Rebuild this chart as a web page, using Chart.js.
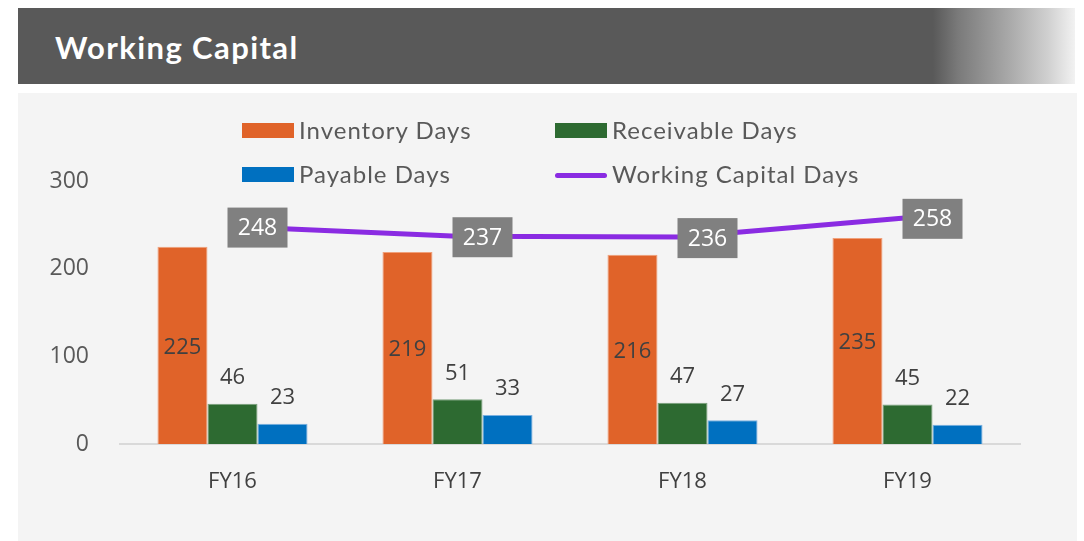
<!DOCTYPE html>
<html>
<head>
<meta charset="utf-8">
<script src="https://cdn.jsdelivr.net/npm/chart.js@4.4.1/dist/chart.umd.min.js"></script>
<style>
  body { margin: 0; width: 1084px; height: 541px; background: #fff; position: relative; overflow: hidden; font-family: "Open Sans", sans-serif; }
  #header { position: absolute; left: 18px; top: 8px; width: 1057px; height: 76px;
    background: linear-gradient(to right, #595959 0px, #595959 915px, #7a7a7a 940px, #a8a8a8 990px, #d0d0d0 1030px, #f2f2f2 1057px); }
  #header h1 { margin: 0; position: absolute; left: 37px; top: 21px; color: #fff; font-family: Lato, sans-serif; font-weight: 700; font-size: 31px; letter-spacing: 1.4px; line-height: 36px; }
  #panel { position: absolute; left: 18px; top: 93px; width: 1059px; height: 448px; background: #f4f4f4; }
  #wrap { position: absolute; left: 0; top: 0; width: 1084px; height: 541px; }
  .lg { position: absolute; font-family: Lato, sans-serif; font-size: 24px; letter-spacing: 1px; color: #595959; white-space: nowrap; }
  .lg span.sw { position: absolute; left: 0; }
  .lg span.tx { position: absolute; left: 57px; top: -16px; line-height: 30px; }
</style>
</head>
<body>
<div id="header"><h1>Working Capital</h1></div>
<div id="panel"></div>
<div id="wrap"><canvas id="mycanvas" width="1084" height="541"></canvas></div>
<div id="legend"></div>
<script>
var years = ["FY16", "FY17", "FY18", "FY19"];
var inventoryDays = [225, 219, 216, 235];
var receivableDays = [46, 51, 47, 45];
var payableDays = [23, 33, 27, 22];
var workingCapitalDays = [248, 237, 236, 258];
var yTicks = [0, 100, 200, 300];

var colors = {
	inventory: "#E06329",
	receivable: "#2D6A31",
	payable: "#0070C0",
	wc: "#8A2BE2"
};

// legend, two rows like the original
var legendItems = [
	{ text: "Inventory Days", color: colors.inventory, line: false, x: 242, y: 131 },
	{ text: "Receivable Days", color: colors.receivable, line: false, x: 555, y: 131 },
	{ text: "Payable Days", color: colors.payable, line: false, x: 242, y: 175 },
	{ text: "Working Capital Days", color: colors.wc, line: true, x: 555, y: 175 }
];
var legend = document.getElementById("legend");
legendItems.forEach(function(it){
	var d = document.createElement("div");
	d.className = "lg";
	d.style.left = it.x + "px";
	d.style.top = it.y + "px";
	var sw = document.createElement("span");
	sw.className = "sw";
	sw.style.width = "52px";
	sw.style.background = it.color;
	if (it.line) {
		sw.style.height = "5px"; sw.style.top = "-2px"; sw.style.borderRadius = "3px";
	} else {
		sw.style.height = "15px"; sw.style.top = "-8px";
	}
	var tx = document.createElement("span");
	tx.className = "tx";
	tx.textContent = it.text;
	d.appendChild(sw);
	d.appendChild(tx);
	legend.appendChild(d);
});

var labelPlugin = {
	id: "labels",
	afterDatasetsDraw: function(chart) {
		var ctx = chart.ctx;
		ctx.save();
		ctx.textAlign = "center";
		ctx.textBaseline = "middle";
		chart.data.datasets.forEach(function(ds, i){
			var meta = chart.getDatasetMeta(i);
			meta.data.forEach(function(el, j){
				var v = ds.data[j];
				if (ds.type === "line") {
					var w = 60, h = 40;
					var cx = el.x + 25;
					ctx.fillStyle = "#808080";
					ctx.fillRect(cx - w / 2, el.y - h / 2 + 1, w, h);
					ctx.fillStyle = "#ffffff";
					ctx.font = "23px 'Open Sans'";
					ctx.fillText(v, cx, el.y + 2);
				} else {
					ctx.fillStyle = "#404040";
					ctx.font = "22px 'Open Sans'";
					if (i === 0) {
						ctx.fillText(v, el.x, (el.y + el.base) / 2 + 2);
					} else {
						ctx.fillText(v, el.x, el.y - 26);
					}
				}
			});
		});
		ctx.restore();
	}
};

var ctx = document.getElementById("mycanvas");
var chart = new Chart(ctx, {
	type: "bar",
	data: {
		labels: years,
		datasets: [
			{ label: "Inventory Days", data: inventoryDays, backgroundColor: colors.inventory, borderColor: "#f0a07a", borderWidth: 1, order: 1 },
			{ label: "Receivable Days", data: receivableDays, backgroundColor: colors.receivable, borderColor: "#7aa07c", borderWidth: 1, order: 1 },
			{ label: "Payable Days", data: payableDays, backgroundColor: colors.payable, borderColor: "#7ab0e0", borderWidth: 1, order: 1 },
			{ type: "line", label: "Working Capital Days", data: workingCapitalDays, borderColor: colors.wc, borderWidth: 5, pointRadius: 0, tension: 0, fill: false, order: 0 }
		]
	},
	options: {
		responsive: false,
		animation: false,
		devicePixelRatio: 1,
		categoryPercentage: 0.667,
		barPercentage: 1,
		layout: { padding: { left: 0, right: 64, top: 181, bottom: 0 } },
		plugins: { legend: { display: false }, tooltip: { enabled: false } },
		scales: {
			x: {
				grid: { display: false, drawTicks: false },
				border: { display: true, color: "#d9d9d9", width: 2 },
				ticks: { color: "#404040", font: { family: "Open Sans", size: 22 }, padding: 25 },
				afterFit: function(s){ s.height = 97; }
			},
			y: {
				min: 0, max: 300,
				afterBuildTicks: function(s){ s.ticks = yTicks.map(function(v){ return { value: v }; }); },
				grid: { display: false, drawTicks: false },
				border: { display: false },
				ticks: { color: "#595959", font: { family: "Open Sans", size: 23 }, padding: 31 },
				afterFit: function(s){ s.width = 120; }
			}
		}
	},
	plugins: [labelPlugin]
});
</script>
</body>
</html>
